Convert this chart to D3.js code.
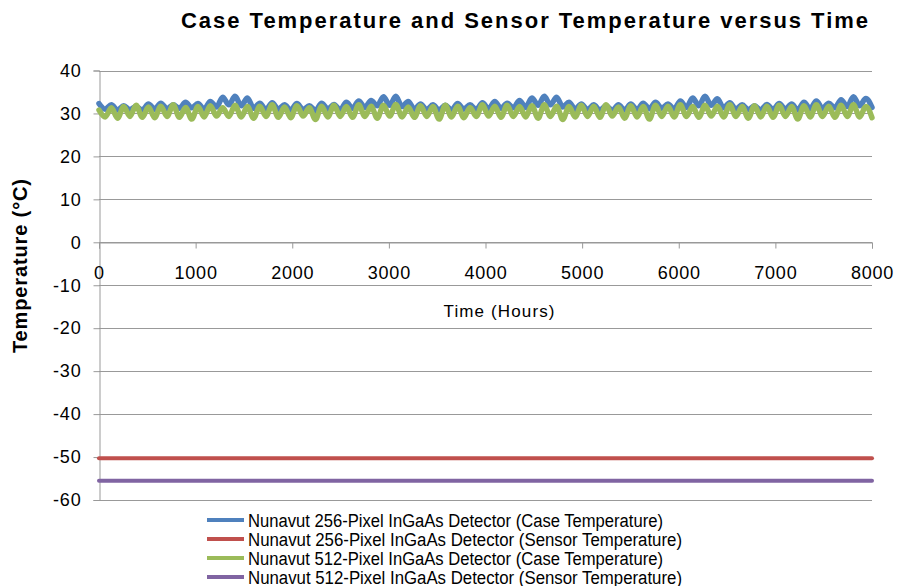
<!DOCTYPE html>
<html>
<head>
<meta charset="utf-8">
<script src="https://d3js.org/d3.v7.min.js"></script>
<style>
  body { margin: 0; background: #fff; }
  svg { font-family: "Liberation Sans", Arial, sans-serif; }
</style>
</head>
<body>
<div id="chart"></div>
<script>
// sampled every 64 hours, 0 .. 8000
const STEP_HOURS = 64;

const case256 = [
  32.3, 31.0, 32.0, 30.8, 31.8, 30.9, 31.6, 30.8, 32.2, 31.0,
  32.4, 31.1, 32.0, 31.2, 32.6, 31.3, 32.3, 31.0, 32.8, 31.5,
  33.8, 32.0, 34.0, 31.8, 33.6, 31.2, 32.4, 30.9, 32.5, 31.0,
  32.0, 30.8, 32.3, 30.9, 31.8, 30.7, 32.4, 31.0, 32.1, 30.8,
  32.6, 31.2, 32.9, 31.4, 33.0, 31.8, 33.9, 31.9, 34.0, 31.6,
  32.8, 31.0, 32.2, 30.9, 32.0, 30.8, 31.9, 30.8, 32.3, 31.0,
  32.0, 30.9, 32.5, 31.1, 32.8, 31.2, 32.4, 31.3, 33.0, 31.4,
  33.6, 31.9, 34.0, 32.0, 33.8, 31.5, 32.6, 31.0, 32.2, 30.9,
  32.0, 30.8, 31.8, 30.7, 32.0, 30.8, 32.2, 30.9, 32.4, 31.1,
  32.6, 31.2, 32.2, 31.0, 32.9, 31.4, 33.6, 31.8, 34.0, 31.9,
  33.4, 31.3, 32.5, 31.0, 32.0, 30.9, 31.8, 30.8, 32.1, 30.9,
  32.3, 31.0, 32.2, 30.8, 32.6, 31.1, 32.9, 31.2, 32.4, 31.3,
  33.2, 31.6, 33.9, 31.8, 33.5, 31.4
];

const case512 = [
  30.8, 29.2, 31.3, 28.9, 31.6, 29.3, 31.9, 29.1, 31.5, 29.0,
  31.7, 29.3, 32.0, 29.1, 31.4, 28.7, 31.6, 29.2, 31.8, 29.4,
  31.3, 29.3, 31.9, 29.2, 31.6, 28.9, 31.7, 29.3, 32.0, 29.1,
  31.5, 29.0, 31.8, 29.4, 31.3, 28.6, 31.7, 29.2, 31.9, 29.3,
  31.6, 29.1, 32.0, 29.3, 31.7, 28.9, 31.9, 29.4, 32.1, 29.2,
  31.5, 29.1, 31.8, 29.3, 31.6, 28.7, 31.9, 29.2, 31.7, 29.0,
  31.4, 29.3, 32.0, 29.4, 31.7, 29.1, 31.9, 29.3, 31.6, 29.2,
  31.8, 28.9, 32.0, 29.3, 31.7, 28.6, 31.6, 29.2, 31.9, 29.3,
  31.7, 29.1, 32.0, 29.4, 31.5, 28.9, 31.8, 29.2, 31.6, 28.7,
  31.9, 29.3, 31.7, 29.2, 32.0, 29.3, 31.6, 29.1, 31.9, 29.4,
  31.7, 29.2, 32.0, 29.3, 31.6, 28.9, 31.8, 29.2, 31.7, 29.1,
  31.9, 29.3, 31.6, 28.7, 31.8, 29.2, 32.0, 29.3, 31.7, 29.1,
  31.9, 29.3, 32.0, 29.2, 31.6, 29.0
];

// sensor temperatures are held flat
const sensorHours = [0, 8000];
const sensor256 = [-50.3, -50.3];
const sensor512 = [-55.5, -55.5];

const xTicks = [0, 1000, 2000, 3000, 4000, 5000, 6000, 7000, 8000];
const yTicks = [40, 30, 20, 10, 0, -10, -20, -30, -40, -50, -60];

const seriesNames = [
  "Nunavut 256-Pixel InGaAs Detector (Case Temperature)",
  "Nunavut 256-Pixel InGaAs Detector (Sensor Temperature)",
  "Nunavut 512-Pixel InGaAs Detector (Case Temperature)",
  "Nunavut 512-Pixel InGaAs Detector (Sensor Temperature)"
];
const seriesColors = ["#4F81BD", "#C0504D", "#9BBB59", "#8064A2"];
const legendWidths = [415, 434, 415, 434];

const W = 898, H = 586;
const plot = { left: 99, right: 872, top: 70.5, bottom: 500 };

const svg = d3.select("#chart").append("svg")
  .attr("width", W).attr("height", H);

const x = d3.scaleLinear().domain([0, 8000]).range([plot.left, plot.right]);
const y = d3.scaleLinear().domain([-60, 40]).range([plot.bottom, plot.top]);

// gridlines
svg.append("g")
  .selectAll("line")
  .data(yTicks)
  .join("line")
  .attr("x1", plot.left).attr("x2", plot.right)
  .attr("y1", d => Math.round(y(d)) + 0.5).attr("y2", d => Math.round(y(d)) + 0.5)
  .attr("stroke", "#999").attr("stroke-width", 1);

// y axis
const yAxis = svg.append("g")
  .attr("transform", `translate(${plot.left + 0.5},0)`)
  .call(d3.axisLeft(y).tickValues(yTicks).tickSize(6).tickPadding(12).tickFormat(d => String(d)));
yAxis.select(".domain").attr("stroke", "#999");
yAxis.selectAll(".tick line").attr("stroke", "#999");
yAxis.selectAll(".tick text")
  .attr("font-size", 18).attr("fill", "#000")
  .attr("font-family", "Liberation Sans, Arial, sans-serif")
  .style("letter-spacing", "0.8px");

// x axis crossing at 0
const xAxis = svg.append("g")
  .attr("transform", `translate(0,${Math.round(y(0)) + 0.5})`)
  .call(d3.axisBottom(x).tickValues(xTicks).tickSize(6).tickPadding(18).tickFormat(d => String(d)));
xAxis.select(".domain").attr("stroke", "#999");
xAxis.selectAll(".tick line").attr("stroke", "#999");
xAxis.selectAll(".tick text")
  .attr("font-size", 18).attr("fill", "#000")
  .attr("font-family", "Liberation Sans, Arial, sans-serif")
  .style("letter-spacing", "0.8px");

// lines
const line = d3.line()
  .x(d => x(d[0]))
  .y(d => y(d[1]))
  .curve(d3.curveMonotoneX);

const toPts = arr => arr.map((v, i) => [i * STEP_HOURS, v]);
const series = [
  toPts(case256),
  sensorHours.map((h, i) => [h, sensor256[i]]),
  toPts(case512),
  sensorHours.map((h, i) => [h, sensor512[i]])
];

svg.append("g")
  .selectAll("path")
  .data(series)
  .join("path")
  .attr("d", line)
  .attr("fill", "none")
  .attr("stroke", (d, i) => seriesColors[i])
  .attr("stroke-width", (d, i) => i % 2 === 0 ? 5.5 : 4)
  .attr("stroke-linejoin", "round")
  .attr("stroke-linecap", "round");

// title
svg.append("text")
  .attr("x", 181).attr("y", 28)
  .attr("font-size", 22).attr("font-weight", "bold")
  .attr("textLength", 687).attr("lengthAdjust", "spacing")
  .text("Case Temperature and Sensor Temperature versus Time");

// axis titles
svg.append("text")
  .attr("x", 499).attr("y", 317)
  .attr("text-anchor", "middle")
  .attr("font-size", 17)
  .attr("textLength", 111).attr("lengthAdjust", "spacing")
  .text("Time (Hours)");

svg.append("text")
  .attr("transform", `translate(27,266) rotate(-90)`)
  .attr("text-anchor", "middle")
  .attr("font-size", 20).attr("font-weight", "bold")
  .attr("textLength", 174).attr("lengthAdjust", "spacing")
  .text("Temperature (°C)");

// legend
const legend = svg.append("g")
  .selectAll("g")
  .data(seriesNames)
  .join("g")
  .attr("transform", (d, i) => `translate(207,${520 + i * 19})`);

legend.append("line")
  .attr("x1", 0).attr("x2", 37)
  .attr("stroke", (d, i) => seriesColors[i])
  .attr("stroke-width", 4);

legend.append("text")
  .attr("x", 41).attr("y", 6.5)
  .attr("font-size", 18)
  .attr("textLength", (d, i) => legendWidths[i]).attr("lengthAdjust", "spacingAndGlyphs")
  .text(d => d);
</script>
</body>
</html>
